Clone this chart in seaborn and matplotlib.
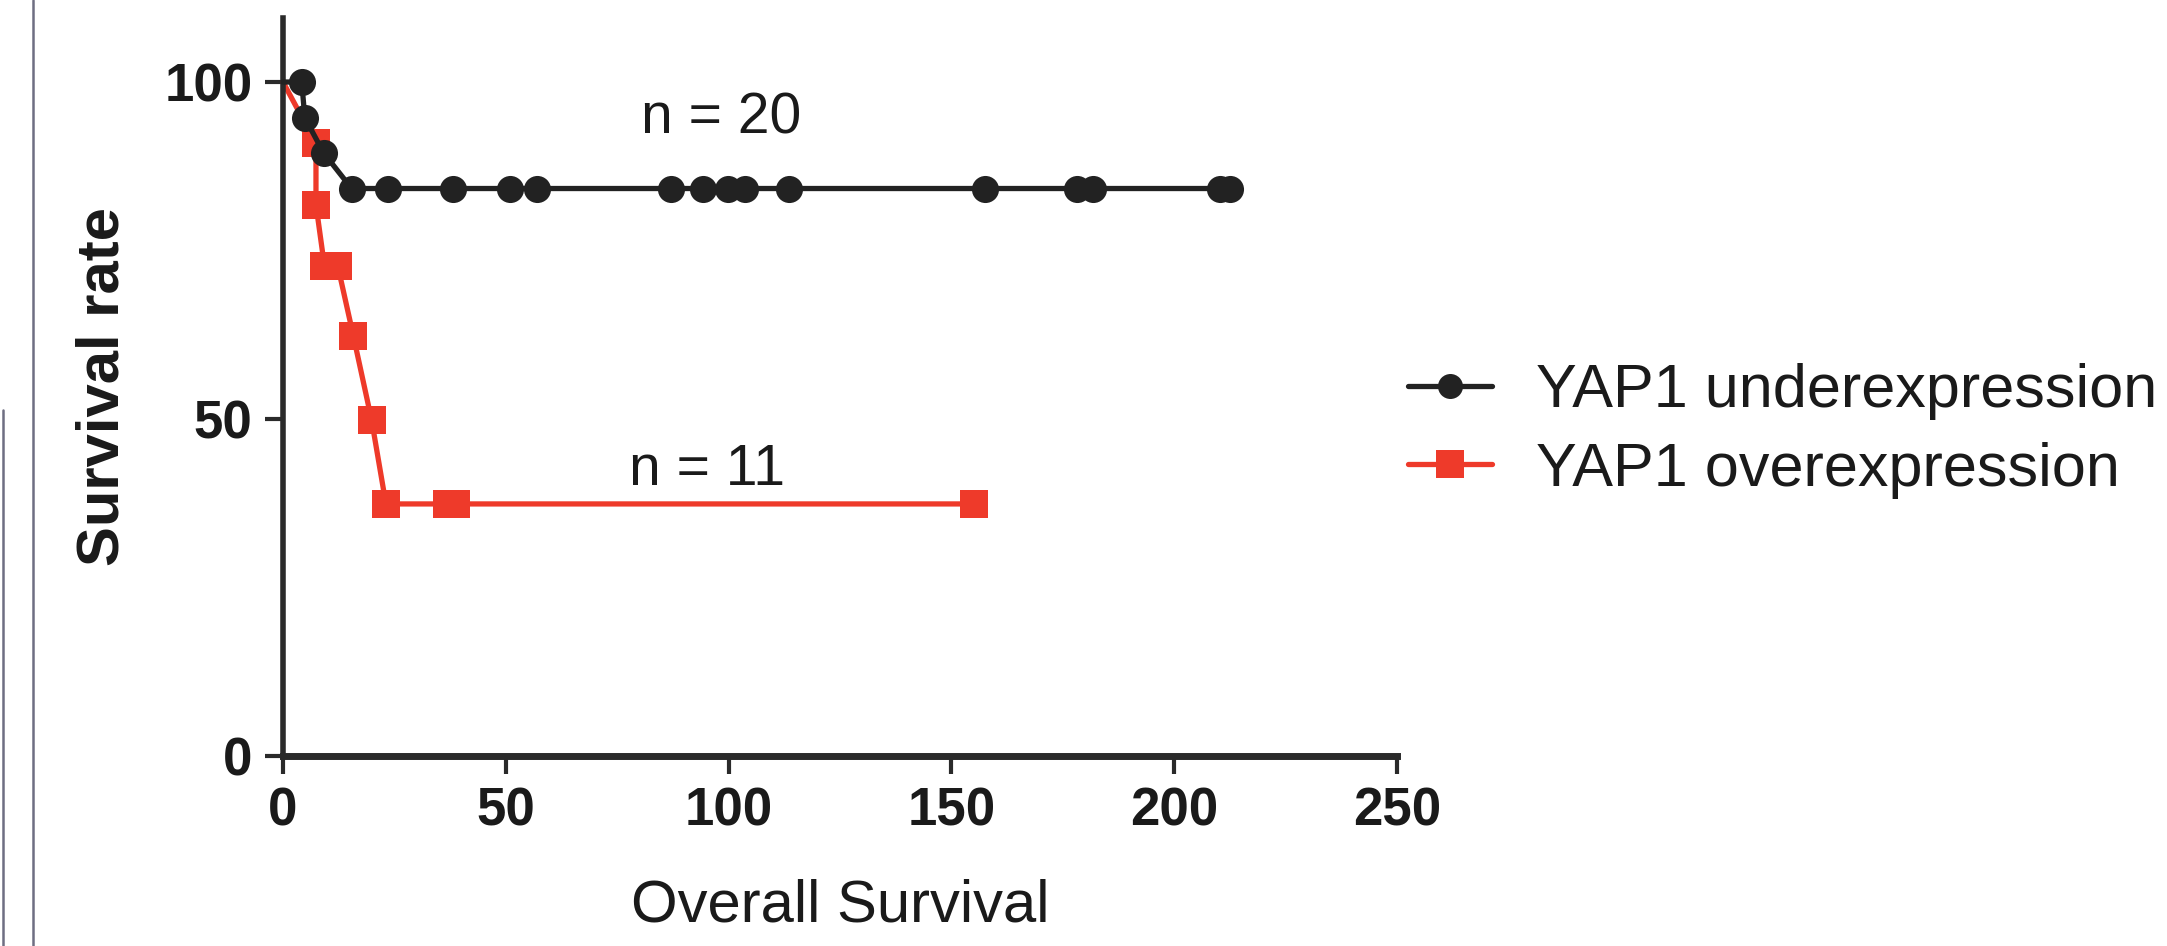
import matplotlib
matplotlib.use('Agg')
import matplotlib.pyplot as plt
from matplotlib.lines import Line2D
import seaborn as sns
import pandas as pd

# survival curves (time, % surviving)
under_time = [0, 4.2, 4.9, 9.1, 15.4, 23.6, 38.2, 51.0, 57.0, 87.0, 94.3, 99.9,
              103.7, 113.5, 157.5, 178.1, 181.8, 210.2, 212.6]
under_surv = [100, 100, 94.7, 89.5, 84.2, 84.2, 84.2, 84.2, 84.2, 84.2, 84.2, 84.2,
              84.2, 84.2, 84.2, 84.2, 84.2, 84.2, 84.2]

over_time = [0, 7.4, 7.4, 9.3, 12.3, 15.8, 19.9, 23.1, 36.8, 38.8, 155.0]
over_surv = [100, 90.9, 81.8, 72.7, 72.7, 62.3, 49.8, 37.4, 37.4, 37.4, 37.4]

group_names = ['YAP1 underexpression', 'YAP1 overexpression']
n_labels = ['n = 20', 'n = 11']
x_ticks = [0, 50, 100, 150, 200, 250]
y_ticks = [0, 50, 100]

df_under = pd.DataFrame({'time': under_time, 'surv': under_surv})
df_over = pd.DataFrame({'time': over_time, 'surv': over_surv})

black = '#222222'
red = '#EE3A2A'

sns.set_style('ticks')
plt.rcParams['font.family'] = ['Liberation Sans', 'DejaVu Sans']

fig = plt.figure(figsize=(21.67, 9.46), dpi=100)
ax = fig.add_axes([283/2167, 1 - 756/946, (1397 - 283)/2167, (756 - 18)/946])

# connecting lines (start at time 0, no symbol there)
sns.lineplot(data=df_under, x='time', y='surv', ax=ax, color=black, linewidth=3.8,
             estimator=None, sort=False, clip_on=False, zorder=3)
sns.lineplot(data=df_over, x='time', y='surv', ax=ax, color=red, linewidth=3.8,
             estimator=None, sort=False, clip_on=False, zorder=2)

# symbols
sns.scatterplot(data=df_over.iloc[1:], x='time', y='surv', ax=ax, color=red, marker='s',
                s=20**2, linewidth=0, clip_on=False, zorder=2)
sns.scatterplot(data=df_under.iloc[1:], x='time', y='surv', ax=ax, color=black, marker='o',
                s=19.5**2, linewidth=0, clip_on=False, zorder=4)

ax.set_xlim(0, 250)
ax.set_ylim(0, 109.5)
ax.set_xticks(x_ticks)
ax.set_yticks(y_ticks)
sns.despine(ax=ax)
ax.spines['left'].set_linewidth(4)
ax.spines['bottom'].set_linewidth(5)
ax.spines['left'].set_color('#2a2a2a')
ax.spines['bottom'].set_color('#2a2a2a')
ax.tick_params(direction='out', length=13, width=3, color='#2a2a2a',
               labelsize=38, labelcolor='#1a1a1a', pad=9)
for lab in ax.get_xticklabels() + ax.get_yticklabels():
    lab.set_fontweight('bold')

ax.set_xlabel('Overall Survival', fontsize=43, color='#1a1a1a', labelpad=30)
ax.set_ylabel('Survival rate', fontsize=43, fontweight='bold', color='#1a1a1a', labelpad=24)

ax.text(98.3, 92.4, n_labels[0], fontsize=41, ha='center', va='baseline', color='#1a1a1a')
ax.text(95.1, 40.2, n_labels[1], fontsize=41, ha='center', va='baseline', color='#1a1a1a')

handles = [
    Line2D([], [], color=black, linewidth=3.8, marker='o', markersize=18, markeredgewidth=0),
    Line2D([], [], color=red, linewidth=3.8, marker='s', markersize=20, markeredgewidth=0),
]
fig.legend(handles, group_names, loc='center left', bbox_to_anchor=(1408/2167, 1 - 431/946),
           frameon=False, fontsize=44, handlelength=1.38, handletextpad=0.72,
           labelspacing=0.35, borderpad=0, borderaxespad=0, labelcolor='#1a1a1a')

# thin frame lines at the left edge of the scanned panel
fig.add_artist(Line2D([33/2167, 33/2167], [0, 1], transform=fig.transFigure,
                      color='#6e6e82', linewidth=1.8))
fig.add_artist(Line2D([3/2167, 3/2167], [0, 1 - 410/946], transform=fig.transFigure,
                      color='#6e6e82', linewidth=1.8))

fig.savefig('out.png', dpi=100, facecolor='white')
